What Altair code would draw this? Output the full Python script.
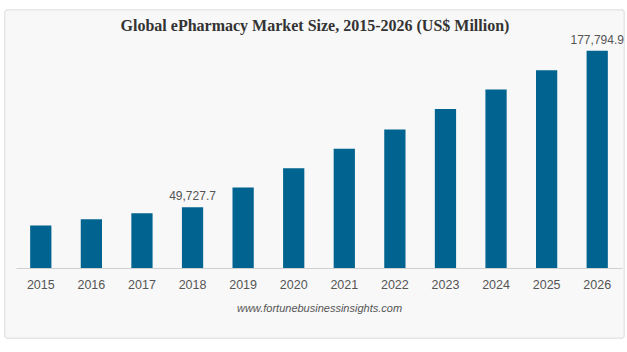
import altair as alt
import pandas as pd

years = ["2015", "2016", "2017", "2018", "2019", "2020", "2021", "2022",
         "2023", "2024", "2025", "2026"]
values = [34700, 39950, 44800, 49727.7, 65800, 81600, 97600, 113400,
          130000, 146000, 161800, 177794.9]
labels = ["", "", "", "49,727.7", "", "", "", "", "", "", "", "177,794.9"]

df = pd.DataFrame({"year": years, "value": values, "label": labels})

SANS = "Liberation Sans"

x = alt.X("year:N", sort=years,
          scale=alt.Scale(paddingInner=0.58, paddingOuter=0.28),
          axis=alt.Axis(title="www.fortunebusinessinsights.com", labelAngle=0,
                        labelFont=SANS, labelFontSize=12.5, labelColor="#555555",
                        labelPadding=10, ticks=False, domainColor="#d0d0d0",
                        titleFont=SANS, titleFontSize=11, titleFontStyle="italic",
                        titleFontWeight="normal", titleColor="#555555",
                        titlePadding=12, zindex=1))
y = alt.Y("value:Q", scale=alt.Scale(domain=[0, 180000], nice=False), axis=None)

base = alt.Chart(df)

card = base.mark_rect(fill="#f8f8f8", stroke="#e6e6e6", strokeWidth=1,
                      cornerRadius=3).encode(
    x=alt.value(-11), x2=alt.value(608), y=alt.value(-38), y2=alt.value(290))

bars = base.mark_bar(color="#006390").encode(x=x, y=y)

text = base.mark_text(dy=-4, baseline="bottom", font=SANS, fontSize=12,
                      color="#555555").encode(x=x, y=y, text="label:N")

chart = alt.layer(card, bars, text).properties(
    width=606, height=220,
    title=alt.TitleParams("Global ePharmacy Market Size, 2015-2026 (US$ Million)",
                          font="Liberation Serif", fontSize=16, fontWeight="bold",
                          color="#333333", anchor="middle", offset=-24, dx=-4,
                          zindex=1),
    padding={"left": 16, "top": 48, "right": 5, "bottom": 84},
    autosize=alt.AutoSizeParams(type="none"),
    background="#ffffff",
).configure_view(stroke=None)

chart.save("out.html", embed_options={"renderer": "svg", "actions": False})
